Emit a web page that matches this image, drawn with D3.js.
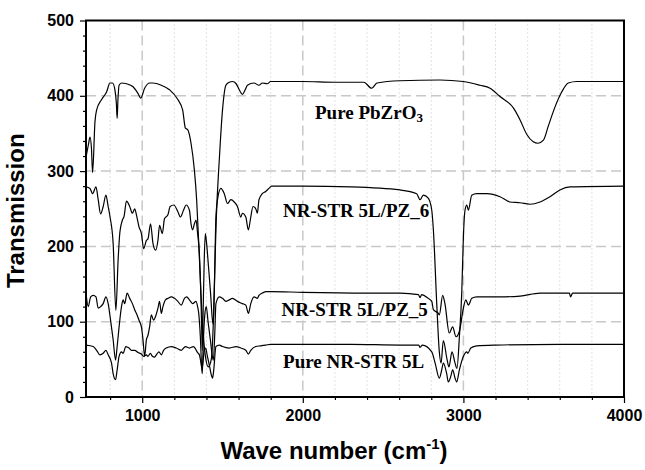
<!DOCTYPE html>
<html>
<head>
<meta charset="utf-8">
<script src="https://cdn.jsdelivr.net/npm/d3@7"></script>
<style>
  body { margin: 0; background: #fff; }
  svg { display: block; }
</style>
</head>
<body>
<div id="chart"></div>
<script>
// FTIR spectra, [wave number, transmission]
const pureNR = [
  [650,69],[695,67],[716,62],[737,56],[757,58],[774,62],[788,56],[809,45],[819,31],[834,23],
  [844,36],[856,54],[871,60],[881,58],[898,67],[918,65],[933,62],[953,62],[974,59],[995,57],
  [1009,54],[1026,56],[1036,54],[1051,58],[1063,54],[1077,53],[1091,57],[1104,60],[1119,56],
  [1133,62],[1150,65],[1181,67],[1212,65],[1243,62],[1269,67],[1294,65],[1319,67],[1345,59],
  [1356,56],[1366,45],[1372,38],[1378,45],[1386,62],[1395,65],[1405,55],[1420,40],[1432,28],
  [1438,25],[1445,35],[1459,67],[1480,69],[1500,67],[1542,65],[1585,67],[1614,65],[1645,62],
  [1661,57],[1676,62],[1707,67],[1738,68],[1769,69],[1800,70],[2000,70],[2300,70],[2605,69],
  [2722,69],[2730,66],[2745,69],[2803,60],[2824,45],[2850,25],[2865,36],[2875,45],[2896,31],
  [2906,20],[2921,27],[2933,36],[2948,25],[2958,20],[2975,36],[3000,54],[3021,60],[3027,58],
  [3046,65],[3083,68],[3200,69],[3600,70],[4000,70]
];

const nrPZ5 = [
  [650,138],[664,120],[679,133],[695,135],[712,133],[726,118],[741,120],[757,124],[774,133],
  [788,124],[803,102],[819,76],[834,49],[844,67],[856,93],[871,120],[881,129],[891,124],
  [906,138],[922,131],[939,124],[953,116],[968,109],[980,102],[995,93],[1005,76],[1015,54],
  [1026,76],[1036,82],[1046,93],[1057,109],[1071,102],[1083,107],[1098,118],[1108,127],
  [1119,111],[1129,120],[1145,129],[1160,131],[1181,133],[1201,131],[1222,127],[1243,122],
  [1263,131],[1277,133],[1294,129],[1314,124],[1335,127],[1345,120],[1352,111],[1362,80],
  [1370,40],[1374,31],[1380,70],[1390,110],[1399,120],[1410,100],[1425,75],[1436,55],
  [1443,49],[1452,85],[1459,124],[1480,133],[1500,131],[1521,127],[1542,129],[1562,131],
  [1593,127],[1624,124],[1645,122],[1661,111],[1676,124],[1696,133],[1717,131],[1727,135],
  [1748,138],[1773,140],[1800,140],[2000,139],[2400,138],[2605,138],[2720,136],[2730,132],
  [2740,136],[2781,131],[2803,127],[2813,116],[2844,111],[2850,109],[2871,135],[2885,124],
  [2912,85],[2933,93],[2954,80],[2977,89],[2998,116],[3015,129],[3031,122],[3052,131],
  [3083,133],[3228,133],[3353,134],[3477,138],[3660,138],[3667,133],[3680,138],[4000,138]
];

const nrPZ6 = [
  [650,279],[675,277],[691,270],[712,279],[726,262],[741,243],[757,253],[774,268],[788,253],
  [799,240],[819,204],[836,115],[850,182],[861,219],[877,235],[887,240],[902,260],[922,253],
  [939,244],[953,250],[964,242],[980,226],[995,217],[1009,197],[1026,208],[1036,210],
  [1052,230],[1067,204],[1083,195],[1098,208],[1108,228],[1125,217],[1139,237],[1160,242],
  [1174,253],[1197,255],[1222,246],[1238,239],[1257,248],[1274,255],[1294,248],[1304,230],
  [1314,222],[1325,230],[1335,235],[1345,217],[1356,190],[1366,130],[1372,75],[1374,62],
  [1378,100],[1386,180],[1393,217],[1401,204],[1412,175],[1425,140],[1436,105],[1443,96],
  [1449,140],[1459,239],[1469,262],[1490,277],[1511,270],[1531,257],[1552,262],[1573,259],
  [1593,253],[1614,239],[1624,244],[1645,239],[1661,222],[1676,239],[1690,253],[1707,250],
  [1717,244],[1727,262],[1748,270],[1769,273],[1789,277],[1806,280],[2000,280],[2300,279],
  [2605,275],[2709,270],[2730,262],[2750,268],[2781,264],[2803,248],[2813,222],[2834,124],
  [2850,60],[2861,45],[2875,75],[2898,50],[2910,40],[2929,60],[2948,45],[2960,38],[2975,80],
  [2990,140],[3000,213],[3010,248],[3021,255],[3031,248],[3052,268],[3083,270],[3145,270],
  [3228,266],[3290,259],[3353,258],[3415,256],[3477,259],[3539,266],[3601,275],[3664,279],
  [4000,280]
];

const purePZ = [
  [650,318],[665,335],[675,345],[684,330],[691,298],[706,366],[716,381],[747,395],[778,405],
  [799,417],[815,417],[830,408],[839,390],[844,370],[849,395],[856,414],[871,417],[902,416],
  [943,412],[974,403],[991,397],[1015,410],[1046,417],[1067,417],[1119,414],[1170,408],
  [1222,395],[1252,381],[1269,357],[1283,355],[1304,337],[1325,301],[1339,262],[1353,200],
  [1365,140],[1378,90],[1393,55],[1412,40],[1430,50],[1443,100],[1452,170],[1461,235],
  [1480,315],[1500,381],[1521,414],[1542,418],[1562,419],[1585,416],[1604,408],[1624,402],
  [1641,408],[1655,414],[1696,417],[1727,414],[1748,417],[1779,416],[1800,419],[2000,419],
  [2200,418],[2380,418],[2429,410],[2462,417],[2605,420],[2854,421],[2999,419],[3103,414],
  [3166,410],[3228,399],[3311,384],[3353,368],[3394,349],[3435,339],[3465,337],[3498,341],
  [3529,360],[3570,385],[3612,405],[3653,417],[3706,419],[4000,419]
];

const seriesList = [pureNR, nrPZ5, nrPZ6, purePZ];

// curve labels, anchored in data units
const labelText = ["Pure NR-STR 5L", "NR-STR 5L/PZ_5", "NR-STR 5L/PZ_6", "Pure PbZrO"];
const labelX = [1877, 1868, 1877, 2076];
const labelY = [39, 108, 239, 369];

const xMajor = [1000, 2000, 3000, 4000];
const xMinor = d3.range(800, 4000, 200).filter(d => d % 1000 !== 0);
const yMajor = [0, 100, 200, 300, 400, 500];
const yMinor = d3.range(20, 500, 20).filter(d => d % 100 !== 0);

const W = 645, H = 470;
const margin = {top: 20.5, right: 21, bottom: 73, left: 86},
      width = W - margin.left - margin.right,
      height = H - margin.top - margin.bottom;

const svg = d3.select("#chart").append("svg")
    .attr("width", W).attr("height", H)
  .append("g")
    .attr("transform", `translate(${margin.left},${margin.top})`);

const x = d3.scaleLinear().domain([650, 4000]).range([0, width]);
const y = d3.scaleLinear().domain([0, 500]).range([height, 0]);

// grid
svg.append("g").selectAll("line.vminor")
  .data(xMinor)
  .join("line")
    .attr("x1", d => x(d)).attr("x2", d => x(d))
    .attr("y1", 0).attr("y2", height)
    .attr("stroke", "#c4c4c4").attr("stroke-width", 1)
    .attr("stroke-dasharray", "1,3");

svg.append("g").selectAll("line.vmajor")
  .data(xMajor.filter(d => d < 4000))
  .join("line")
    .attr("x1", d => x(d)).attr("x2", d => x(d))
    .attr("y1", 0).attr("y2", height)
    .attr("stroke", "#c8c8c8").attr("stroke-width", 1.5)
    .attr("stroke-dasharray", "10,5");

svg.append("g").selectAll("line.hmajor")
  .data(yMajor.filter(d => d > 0 && d < 500))
  .join("line")
    .attr("x1", 0).attr("x2", width)
    .attr("y1", d => y(d)).attr("y2", d => y(d))
    .attr("stroke", "#c8c8c8").attr("stroke-width", 1.5)
    .attr("stroke-dasharray", "10,5");

// spectra
svg.append("clipPath").attr("id", "plotclip")
  .append("rect").attr("width", width).attr("height", height);

const line = d3.line()
    .x(d => x(d[0]))
    .y(d => y(d[1]))
    .curve(d3.curveMonotoneX);

svg.append("g").attr("clip-path", "url(#plotclip)")
  .selectAll("path")
  .data(seriesList)
  .join("path")
    .attr("fill", "none")
    .attr("stroke", "#000")
    .attr("stroke-width", 1.2)
    .attr("d", line);

// axes
const tickFont = "'Liberation Sans', Arial, sans-serif";

svg.append("g")
    .call(d3.axisLeft(y).tickValues(yMajor).tickSize(6).tickPadding(6).tickSizeOuter(0));
svg.append("g")
    .call(d3.axisLeft(y).tickValues(yMinor).tickSize(3).tickFormat("").tickSizeOuter(0));

svg.append("g")
    .attr("transform", `translate(0,${height})`)
    .call(d3.axisBottom(x).tickValues(xMajor).tickFormat(d3.format("d"))
      .tickSize(6).tickPadding(7).tickSizeOuter(0));
svg.append("g")
    .attr("transform", `translate(0,${height})`)
    .call(d3.axisBottom(x).tickValues(xMinor).tickSize(3).tickFormat("").tickSizeOuter(0));

svg.selectAll(".domain").remove();
svg.selectAll(".tick line").attr("stroke", "#000").attr("stroke-width", 1.2);
svg.selectAll(".tick text")
    .style("font-family", tickFont)
    .style("font-weight", "bold")
    .style("font-size", "16px")
    .attr("fill", "#000");

// frame
svg.append("rect")
    .attr("width", width).attr("height", height)
    .attr("fill", "none").attr("stroke", "#000").attr("stroke-width", 2);

// curve labels
const lab = svg.append("g")
    .style("font-family", "'Liberation Serif', 'Times New Roman', serif")
    .style("font-weight", "bold")
    .style("font-size", "19px");

labelText.forEach((t, i) => {
  const txt = lab.append("text")
      .attr("x", x(labelX[i]))
      .attr("y", y(labelY[i]))
      .text(t);
  if (i === 3) {
    txt.append("tspan").attr("font-size", "13px").attr("dy", 3).text("3");
  }
});

// axis titles
svg.append("text")
    .attr("transform", `translate(${24 - margin.left},${height / 2 + 2}) rotate(-90)`)
    .attr("text-anchor", "middle")
    .style("font-family", tickFont)
    .style("font-weight", "bold")
    .style("font-size", "24px")
    .text("Transmission");

const xt = svg.append("text")
    .attr("x", 248)
    .attr("y", height + 62)
    .attr("text-anchor", "middle")
    .style("font-family", tickFont)
    .style("font-weight", "bold")
    .style("font-size", "24px");
xt.append("tspan").text("Wave number (cm");
xt.append("tspan").attr("font-size", "15px").attr("dy", -10).text("-1");
xt.append("tspan").attr("dy", 10).text(")");
</script>
</body>
</html>
